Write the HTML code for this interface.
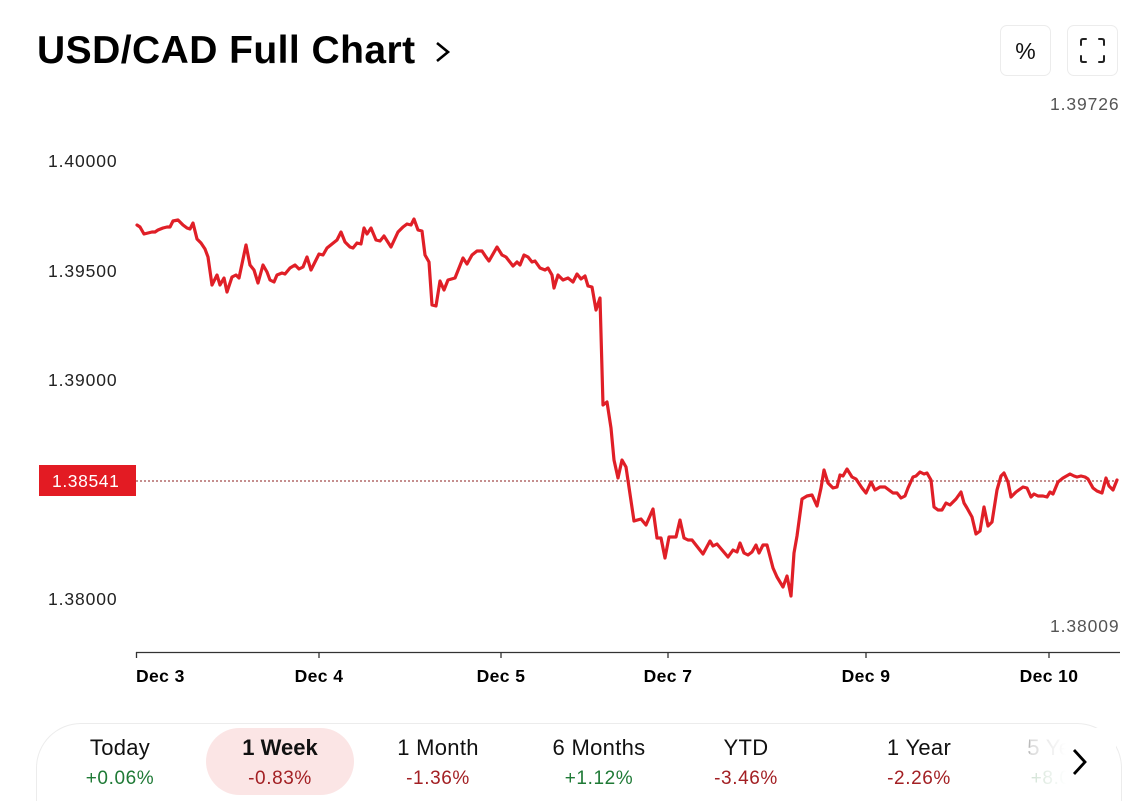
<!DOCTYPE html>
<html><head><meta charset="utf-8">
<style>
html,body{margin:0;padding:0;background:#fff;width:1136px;height:801px;overflow:hidden;}
body{position:relative;font-family:"Liberation Sans",sans-serif;color:#111;}
.title{position:absolute;left:37px;top:29px;font-size:39px;font-weight:bold;letter-spacing:0.45px;color:#000;white-space:nowrap;}
.btn{position:absolute;top:25px;width:51px;height:51px;border:1px solid #ececec;border-radius:7px;box-sizing:border-box;background:#fff;}
.bar{position:absolute;left:36px;top:723px;width:1086px;height:78px;border:1px solid #ececec;border-bottom:none;border-radius:45px 45px 0 0;box-sizing:border-box;background:#fff;}
.item{position:absolute;top:734px;width:170px;text-align:center;}
.item .a{font-size:22px;color:#111;line-height:28px;letter-spacing:0.3px;}
.item .b{font-size:19px;line-height:34px;letter-spacing:0.6px;}
.g{color:#1f7a36;}
.r{color:#a32024;}
.sel{position:absolute;left:206px;top:728px;width:148px;height:67px;border-radius:34px;background:#fbe5e5;}
.fade{position:absolute;left:1030px;top:728px;width:36px;height:70px;background:linear-gradient(to right,rgba(255,255,255,0.45),rgba(255,255,255,1));}
</style></head><body>
<div class="title">USD/CAD Full Chart</div>
<svg style="position:absolute;left:0;top:0" width="1136" height="801">
  <polyline points="437,43 448,52 437,61" fill="none" stroke="#000" stroke-width="2.6"/>
</svg>
<div class="btn" style="left:1000px;"><div style="position:absolute;left:0;right:0;top:12px;text-align:center;font-size:23px;color:#111;">%</div></div>
<div class="btn" style="left:1067px;">
<svg width="51" height="51" style="position:absolute;left:-1px;top:-1px">
<g fill="none" stroke="#222" stroke-width="2" stroke-linecap="round">
<path d="M14 20 V16 Q14 14 16 14 H19"/><path d="M32 14 H35 Q37 14 37 16 V20"/>
<path d="M37 31 V35 Q37 37 35 37 H32"/><path d="M19 37 H16 Q14 37 14 35 V31"/>
</g></svg></div>

<svg style="position:absolute;left:0;top:0" width="1136" height="801" font-family="Liberation Sans, sans-serif">
  <g font-size="17.5" fill="#222" letter-spacing="0.9">
    <text x="48" y="167">1.40000</text>
    <text x="48" y="277">1.39500</text>
    <text x="48" y="386">1.39000</text>
    <text x="48" y="496">1.38500</text>
    <text x="48" y="605">1.38000</text>
  </g>
  <g font-size="17.5" fill="#555" letter-spacing="0.9">
    <text x="1050" y="110">1.39726</text>
    <text x="1050" y="632">1.38009</text>
  </g>
  <line x1="136" y1="481" x2="1120" y2="481" stroke="#8b1c1c" stroke-width="1" stroke-dasharray="2,2"/>
  <rect x="39" y="465" width="97" height="31" fill="#e31b23"/>
  <text x="52" y="487" font-size="17.5" fill="#fff" letter-spacing="0.6">1.38541</text>
  <line x1="136" y1="652.5" x2="1120" y2="652.5" stroke="#333" stroke-width="1.3"/>
  <g stroke="#333" stroke-width="1.3">
    <line x1="136.5" y1="652" x2="136.5" y2="658"/>
    <line x1="319" y1="652" x2="319" y2="658"/>
    <line x1="501" y1="652" x2="501" y2="658"/>
    <line x1="668" y1="652" x2="668" y2="658"/>
    <line x1="866" y1="652" x2="866" y2="658"/>
    <line x1="1049" y1="652" x2="1049" y2="658"/>
  </g>
  <g font-size="17.5" font-weight="bold" fill="#000" text-anchor="middle" letter-spacing="0.4">
    <text x="136" y="682" text-anchor="start">Dec 3</text>
    <text x="319" y="682">Dec 4</text>
    <text x="501" y="682">Dec 5</text>
    <text x="668" y="682">Dec 7</text>
    <text x="866" y="682">Dec 9</text>
    <text x="1049" y="682">Dec 10</text>
  </g>
  <polyline fill="none" stroke="#e01f27" stroke-width="3.2" stroke-linejoin="round" stroke-linecap="round" points="
137,225 140,227 144,234 148,233 152,232 155,232 158,230 163,228 167,227 170,227 173,221 178,220 183,225 187,228 190,229 193,223 197,239 201,243 205,249 208,257 212,285 217,275 220,285 224,278 227,292 232,277 236,275 239,278 246,245 250,265 254,270 258,283 263,265 267,272 270,280 274,282 277,275 282,273 285,274 290,268 295,265 299,269 303,267 307,257 311,270 315,262 319,254 323,255 327,248 332,244 337,240 341,232 345,242 350,247 353,248 357,243 361,244 364,228 367,234 371,228 376,240 380,241 384,236 391,247 398,232 403,227 407,224 411,225 414,219 418,230 422,231 425,255 429,262 432,305 436,306 440,281 444,290 448,280 455,278 463,258 467,264 472,255 477,251 482,251 486,257 489,261 497,247 502,255 506,257 513,266 517,262 520,265 524,255 528,257 532,262 535,261 540,268 545,270 548,268 552,275 554,288 558,275 563,280 568,278 573,282 577,274 581,279 585,276 588,286 592,287 596,310 600,298 603,405 607,402 611,428 614,460 618,478 622,460 626,467 634,521 641,519 646,525 653,509 657,538 661,538 665,558 669,537 676,537 680,520 684,538 688,540 692,540 703,554 710,541 713,546 717,544 728,557 733,550 737,552 740,543 744,553 748,555 752,552 756,545 759,553 763,545 767,545 773,568 777,577 783,587 787,576 791,596 794,553 797,536 802,499 807,496 812,495 817,506 821,488 824,470 828,483 833,488 837,487 840,475 843,476 847,469 852,477 856,479 862,488 866,493 871,482 875,490 880,487 885,487 893,493 897,493 901,498 905,496 908,488 913,477 916,476 920,472 924,474 927,473 931,480 934,507 938,510 942,510 946,503 950,505 956,499 961,492 964,503 967,508 972,517 976,534 980,531 984,507 988,526 992,522 997,490 1001,476 1004,473 1008,482 1011,497 1016,492 1023,487 1027,488 1031,497 1034,494 1038,496 1043,496 1047,497 1050,492 1053,494 1058,482 1063,478 1070,474 1074,476 1077,477 1081,476 1085,477 1088,479 1093,488 1097,491 1102,493 1106,478 1109,486 1113,490 1117,480"/>
</svg>

<div class="bar"></div>
<div class="sel"></div>
<div class="item" style="left:35px;"><div class="a">Today</div><div class="b g">+0.06%</div></div>
<div class="item" style="left:195px;"><div class="a" style="font-weight:bold;letter-spacing:0;">1 Week</div><div class="b r">-0.83%</div></div>
<div class="item" style="left:353px;"><div class="a">1 Month</div><div class="b r">-1.36%</div></div>
<div class="item" style="left:514px;"><div class="a">6 Months</div><div class="b g">+1.12%</div></div>
<div class="item" style="left:661px;"><div class="a">YTD</div><div class="b r">-3.46%</div></div>
<div class="item" style="left:834px;"><div class="a">1 Year</div><div class="b r">-2.26%</div></div>
<div class="item" style="left:980px;"><div class="a" style="color:#bbb;">5 Years</div><div class="b" style="color:#aac9b0;">+8.00%</div></div>
<div class="fade"></div>
<div style="position:absolute;left:1066px;top:728px;width:50px;height:73px;background:#fff;"></div>
<svg style="position:absolute;left:0;top:0" width="1136" height="801">
  <polyline points="1074,750 1085,762 1074,774" fill="none" stroke="#000" stroke-width="2.8"/>
</svg>
</body></html>
